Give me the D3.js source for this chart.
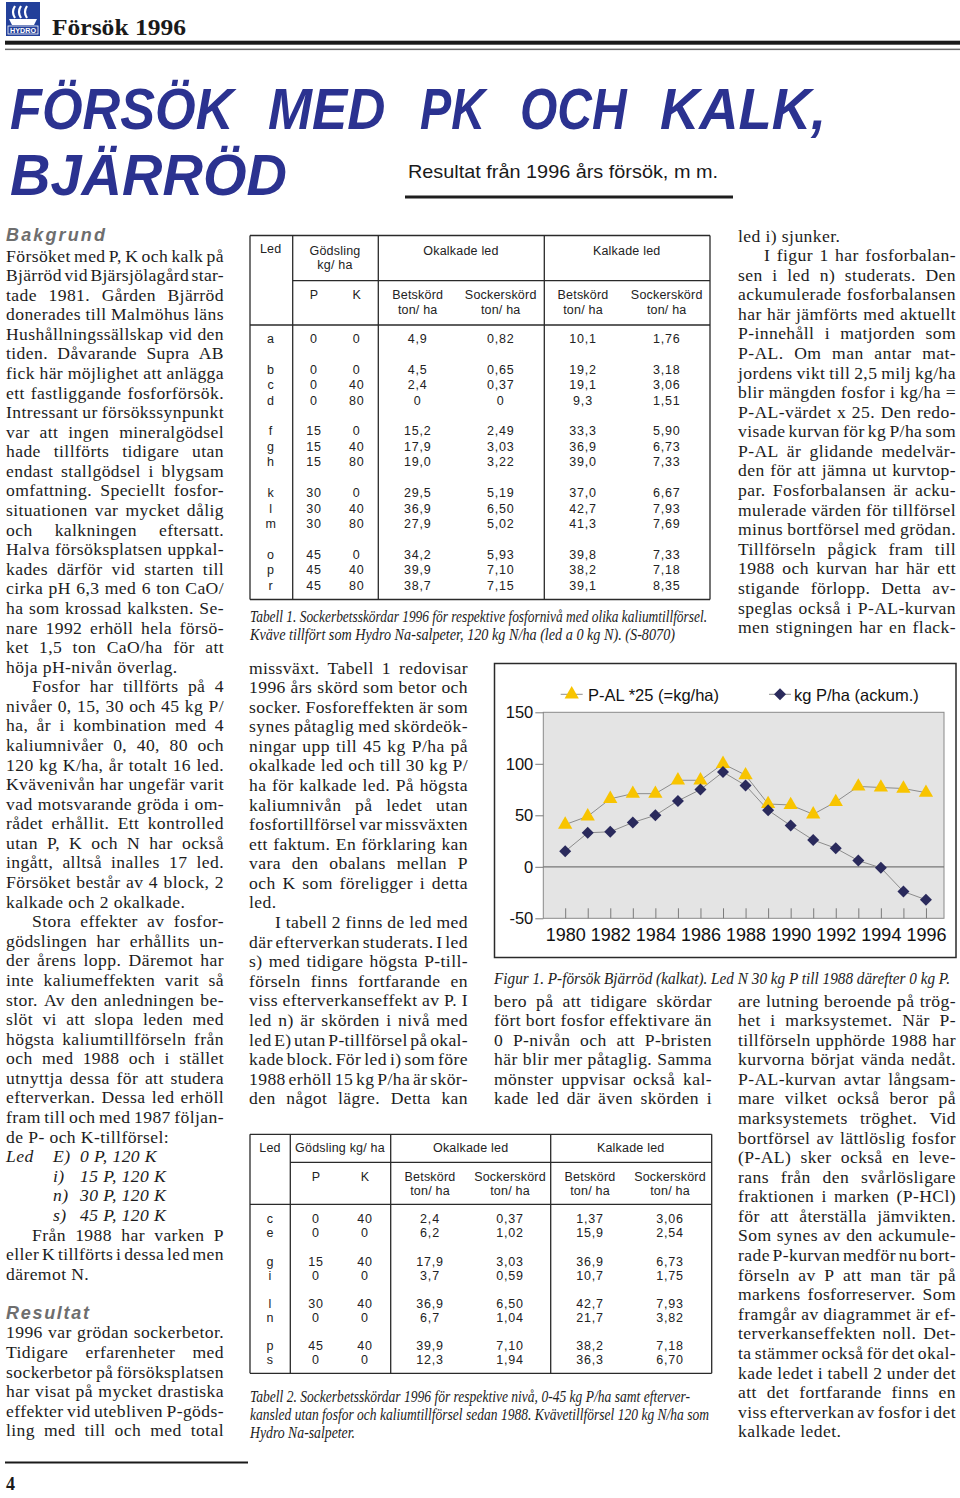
<!DOCTYPE html>
<html><head><meta charset="utf-8">
<script src="https://cdn.jsdelivr.net/npm/d3@7"></script>
<style>html,body{margin:0;padding:0;background:#fff;}</style>
</head><body>
<svg id="page" width="960" height="1498" xmlns="http://www.w3.org/2000/svg"></svg>
<script>
// ---------------- DATA ----------------
const years = [1980,1981,1982,1983,1984,1985,1986,1987,1988,1989,1990,1991,1992,1993,1994,1995,1996];
const palValues = [41,49,66,71,71,84,84,100,89,61,60,51,63,78,77,76,72];
const ackumValues = [15,33,34,43,50,64,75,92,79,55,40,26,18,6,-1,-24,-32];
const yTicks = [150,100,50,0,-50];
const xTickLabels = [1980,1982,1984,1986,1988,1990,1992,1994,1996];
const legendLabels = ["P-AL *25 (=kg/ha)", "kg P/ha (ackum.)"];

const t1Rows = [
 ['a','0','0','4,9','0,82','10,1','1,76'],
 ['b','0','0','4,5','0,65','19,2','3,18'],
 ['c','0','40','2,4','0,37','19,1','3,06'],
 ['d','0','80','0','0','9,3','1,51'],
 ['f','15','0','15,2','2,49','33,3','5,90'],
 ['g','15','40','17,9','3,03','36,9','6,73'],
 ['h','15','80','19,0','3,22','39,0','7,33'],
 ['k','30','0','29,5','5,19','37,0','6,67'],
 ['l','30','40','36,9','6,50','42,7','7,93'],
 ['m','30','80','27,9','5,02','41,3','7,69'],
 ['o','45','0','34,2','5,93','39,8','7,33'],
 ['p','45','40','39,9','7,10','38,2','7,18'],
 ['r','45','80','38,7','7,15','39,1','8,35']
];
const t1Group = [0,1,1,1,2,2,2,3,3,3,4,4,4];
const t2Rows = [
 ['c','0','40','2,4','0,37','1,37','3,06'],
 ['e','0','0','6,2','1,02','15,9','2,54'],
 ['g','15','40','17,9','3,03','36,9','6,73'],
 ['i','0','0','3,7','0,59','10,7','1,75'],
 ['l','30','40','36,9','6,50','42,7','7,93'],
 ['n','0','0','6,7','1,04','21,7','3,82'],
 ['p','45','40','39,9','7,10','38,2','7,18'],
 ['s','0','0','12,3','1,94','36,3','6,70']
];
const t2Group = [0,0,1,1,2,2,3,3];

const col1Lines = [
 "Försöket med P, K och kalk på","Bjärröd vid Bjärsjölagård star-","tade 1981. Gården Bjärröd","donerades till Malmöhus läns",
 "Hushållningssällskap vid den","tiden. Dåvarande Supra AB","fick här möjlighet att anlägga","ett fastliggande fosforförsök.",
 "Intressant ur försökssynpunkt","var att ingen mineralgödsel","hade tillförts tidigare utan","endast stallgödsel i blygsam",
 "omfattning. Speciellt fosfor-","situationen var mycket dålig","och kalkningen eftersatt.","Halva försöksplatsen uppkal-",
 "kades därför vid starten till","cirka pH 6,3 med 6 ton CaO/","ha som krossad kalksten. Se-","nare 1992 erhöll hela försö-",
 "ket 1,5 ton CaO/ha för att","höja pH-nivån överlag.¶",
 "»Fosfor har tillförts på 4","nivåer 0, 15, 30 och 45 kg P/","ha, år i kombination med 4","kaliumnivåer 0, 40, 80 och",
 "120 kg K/ha, år totalt 16 led.","Kvävenivån har ungefär varit","vad motsvarande gröda i om-","rådet erhållit. Ett kontrolled",
 "utan P, K och N har också","ingått, alltså inalles 17 led.","Försöket består av 4 block, 2","kalkade och 2 okalkade.¶",
 "»Stora effekter av fosfor-","gödslingen har erhållits un-","der årens lopp. Däremot har","inte kaliumeffekten varit så",
 "stor. Av den anledningen be-","slöt vi att slopa leden med","högsta kaliumtillförseln från","och med 1988 och i stället",
 "utnyttja dessa för att studera","efterverkan. Dessa led erhöll","fram till och med 1987 följan-","de P- och K-tillförsel:¶",
 null,null,null,null,
 "»Från 1988 har varken P","eller K tillförts i dessa led men","däremot N.¶",
 null,null,
 "1996 var grödan sockerbetor.","Tidigare erfarenheter med","sockerbetor på försöksplatsen","har visat på mycket drastiska",
 "effekter vid utebliven P-göds-","ling med till och med total"
];
const ledLabels = ["E)","i)","n)","s)"];
const ledValues = ["0 P, 120 K","15 P, 120 K","30 P, 120 K","45 P, 120 K"];

const col2Lines = [
 "missväxt. Tabell 1 redovisar","1996 års skörd som betor och","socker. Fosforeffekten är som","synes påtaglig med skördeök-",
 "ningar upp till 45 kg P/ha på","okalkade led och till 30 kg P/","ha för kalkade led. På högsta","kaliumnivån på ledet utan",
 "fosfortillförsel var missväxten","ett faktum. En förklaring kan","vara den obalans mellan P","och K som föreligger i detta","led.¶",
 "»I tabell 2 finns de led med","där efterverkan studerats. I led","s) med tidigare högsta P-till-","förseln finns fortfarande en",
 "viss efterverkanseffekt av P. I","led n) är skörden i nivå med","led E) utan P-tillförsel på okal-","kade block. För led i) som före",
 "1988 erhöll 15 kg P/ha är skör-","den något lägre. Detta kan"
];
const col3Lines = [
 "bero på att tidigare skördar","fört bort fosfor effektivare än","0 P-nivån och att P-bristen","här blir mer påtaglig. Samma",
 "mönster uppvisar också kal-","kade led där även skörden i"
];
const col4Lines = [
 "led i) sjunker.¶","»I figur 1 har fosforbalan-","sen i led n) studerats. Den","ackumulerade fosforbalansen",
 "har här jämförts med aktuellt","P-innehåll i matjorden som","P-AL. Om man antar mat-","jordens vikt till 2,5 milj kg/ha",
 "blir mängden fosfor i kg/ha =","P-AL-värdet x 25. Den redo-","visade kurvan för kg P/ha som","P-AL är glidande medelvär-",
 "den för att jämna ut kurvtop-","par. Fosforbalansen är acku-","mulerade värden för tillförsel","minus bortförsel med grödan.",
 "Tillförseln pågick fram till","1988 och kurvan har här ett","stigande förlopp. Detta av-","speglas också i P-AL-kurvan",
 "men stigningen har en flack-"
];
const col5Lines = [
 "are lutning beroende på trög-","het i marksystemet. När P-","tillförseln upphörde 1988 har","kurvorna börjat vända nedåt.",
 "P-AL-kurvan avtar långsam-","mare vilket också beror på","marksystemets tröghet. Vid","bortförsel av lättlöslig fosfor",
 "(P-AL) sker också en leve-","rans från den svårlösligare","fraktionen i marken (P-HCl)","för att återställa jämvikten.",
 "Som synes av den ackumule-","rade P-kurvan medför nu bort-","förseln av P att man tär på","markens fosforreserver. Som",
 "framgår av diagrammet är ef-","terverkanseffekten noll. Det-","ta stämmer också för det okal-","kade ledet i tabell 2 under det",
 "att det fortfarande finns en","viss efterverkan av fosfor i det","kalkade ledet.¶"
];

// ---------------- DRAWING ----------------
const SERIF = "'Liberation Serif','DejaVu Serif',serif";
const SANS = "'Liberation Sans',Arial,sans-serif";
const svg = d3.select('#page');
const LH = 19.58;
const BODY_SIZE = 17.6;

// Header / logo
const logo = svg.append('g');
logo.append('rect').attr('x',6).attr('y',2).attr('width',34).attr('height',34).attr('fill','#23409a');
[0,1,2].forEach(i=>{
  logo.append('path').attr('d',`M${15+i*6},6 q-4,6 0,12`).attr('fill','none').attr('stroke','#fff').attr('stroke-width',2.2);
});
logo.append('path').attr('d','M9,19 L37,19 L34,25 L12,25 Z').attr('fill','#fff');
logo.append('rect').attr('x',8).attr('y',26).attr('width',30).attr('height',8).attr('fill','none').attr('stroke','#fff').attr('stroke-width',0.8);
logo.append('text').attr('x',23).attr('y',33).attr('text-anchor','middle').attr('font-family',SANS).attr('font-weight','bold')
  .attr('font-size',7.2).attr('fill','#fff').text('HYDRO');

svg.append('text').attr('x',52).attr('y',34.5).attr('font-family',SERIF).attr('font-weight','bold').attr('font-size',23)
  .attr('fill','#1a1a1a').attr('textLength',134).attr('lengthAdjust','spacingAndGlyphs').text('Försök 1996');
svg.append('rect').attr('x',5).attr('y',40.7).attr('width',955).attr('height',4).attr('fill','#1a1a1a');
svg.append('rect').attr('x',5).attr('y',48.6).attr('width',955).attr('height',1.5).attr('fill','#6a6a6a');

// Title
const TITLE_BLUE = '#2b3290';
const titleWords = [["FÖRSÖK",10,238],["MED",268,132],["PK",420,78],["OCH",520,120],["KALK,",660,166]];
const tt = svg.append('text').attr('y',128.5).attr('font-family',SANS).attr('font-weight','bold').attr('font-style','italic')
  .attr('font-size',57).attr('fill',TITLE_BLUE);
titleWords.forEach((w,k)=>{ tt.append('tspan').attr('x',w[1]).attr('textLength',w[2]).attr('lengthAdjust','spacingAndGlyphs').text(w[0]+(k<titleWords.length-1?' ':'')); });
svg.append('text').attr('x',10).attr('y',195).attr('font-family',SANS).attr('font-weight','bold').attr('font-style','italic')
  .attr('font-size',57).attr('fill',TITLE_BLUE).attr('textLength',277).attr('lengthAdjust','spacingAndGlyphs').text('BJÄRRÖD');
svg.append('text').attr('x',408).attr('y',178).attr('font-family',SANS).attr('font-size',19).attr('fill','#1a1a1a')
  .attr('textLength',310).attr('lengthAdjust','spacingAndGlyphs').text('Resultat från 1996 års försök, m m.');
svg.append('rect').attr('x',405).attr('y',195.5).attr('width',328).attr('height',3).attr('fill','#1e1e1e');

// Body text, justified word by word
const measurer = svg.append('text').attr('font-family',SERIF).attr('font-size',BODY_SIZE).attr('x',-1000).attr('y',-1000);
function wordWidths(words, ls) {
  measurer.style('letter-spacing', ls+'px');
  return words.map(w=>{ measurer.text(w); return measurer.node().getComputedTextLength(); });
}
function drawLines(lines, x0, width, yc0) {
  const g = svg.append('g');
  lines.forEach((raw,i)=>{
    if (raw===null) return;
    let s = raw, indent = 0, just = true;
    if (s.startsWith('»')) { indent = 26; s = s.slice(1); }
    if (s.endsWith('¶')) { just = false; s = s.slice(0,-1); }
    const words = s.split(' ');
    const target = width - indent;
    const minGap = 2.6;
    let ls = 0.4;
    let ww = wordWidths(words, ls);
    let sum = d3.sum(ww);
    const need = sum + minGap*(words.length-1);
    if (need > target) {
      const nch = s.replace(/ /g,'').length;
      ls = ls - (need - target)/nch;
      ww = wordWidths(words, ls); sum = d3.sum(ww);
    }
    let gap = BODY_SIZE*0.25 + ls;
    if (words.length>1 && (just || sum + gap*(words.length-1) > target)) gap = (target - sum)/(words.length-1);
    const t = g.append('text').attr('y',yc0+i*LH+5.5).attr('font-family',SERIF).attr('font-size',BODY_SIZE)
      .attr('fill','#1c1c1c').style('letter-spacing',ls+'px');
    let cx = x0+indent;
    words.forEach((w,k)=>{
      t.append('tspan').attr('x',cx).text(w + (k<words.length-1?' ':''));
      cx += ww[k] + gap;
    });
  });
  return g;
}
function heading(txt, x, yc, w) {
  svg.append('text').attr('x',x).attr('y',yc+6).attr('font-family',SANS).attr('font-weight','bold').attr('font-style','italic')
    .attr('font-size',18).attr('fill','#6e6e6e').attr('textLength',w).attr('lengthAdjust','spacing').text(txt);
}
heading('Bakgrund',6,235,99);
drawLines(col1Lines,6,218,256);
heading('Resultat',6,256+54*LH,83);
ledLabels.forEach((l,i)=>{
  const yy = 256+(46+i)*LH+5.5;
  const it = (txt,xx)=>svg.append('text').attr('x',xx).attr('y',yy).attr('font-family',SERIF).attr('font-style','italic')
    .attr('font-size',BODY_SIZE).attr('fill','#1c1c1c').style('letter-spacing','0.4px').text(txt);
  if (i===0) it('Led',6);
  it(l,53);
  it(ledValues[i],80);
});
drawLines(col2Lines,249,219,668);
drawLines(col3Lines,494,218,1001);
drawLines(col4Lines,738,218,236);
drawLines(col5Lines,738,218,1001);
measurer.remove();

// Captions
function caption(txt, x, yc, w) {
  svg.append('text').attr('x',x).attr('y',yc+5).attr('font-family',SERIF).attr('font-style','italic').attr('font-size',16.5)
    .attr('fill','#1c1c1c').attr('textLength',w).attr('lengthAdjust','spacingAndGlyphs').text(txt);
}
caption('Tabell 1. Sockerbetsskördar 1996 för respektive fosfornivå med olika kaliumtillförsel.',250,616.7,457);
caption('Kväve tillfört som Hydro Na-salpeter, 120 kg N/ha (led a  0 kg N). (S-8070)',250,635,425);
caption('Figur 1. P-försök Bjärröd (kalkat). Led N 30 kg P till 1988 därefter 0 kg P.',494,979,456);
caption('Tabell 2. Sockerbetsskördar 1996 för respektive nivå, 0-45 kg P/ha samt efterver-',250,1396.7,440);
caption('kansled utan fosfor och kaliumtillförsel sedan 1988. Kvävetillförsel 120 kg N/ha som',250,1415,459);
caption('Hydro Na-salpeter.',250,1433.3,105);

// Tables
function tableText(g, txt, x, y, spaced) {
  g.append('text').attr('x',x).attr('y',y).attr('text-anchor','middle').attr('dominant-baseline','central')
    .attr('font-family',SANS).attr('font-size',12.5).attr('fill','#222')
    .style('letter-spacing', spaced ? '0.8px' : '0.2px').text(txt);
}
function hline(g,x1,x2,yy){ g.append('line').attr('x1',x1).attr('x2',x2).attr('y1',yy).attr('y2',yy).attr('stroke','#2a2a2a').attr('stroke-width',1.3); }
function vline(g,xx,y1,y2){ g.append('line').attr('x1',xx).attr('x2',xx).attr('y1',y1).attr('y2',y2).attr('stroke','#2a2a2a').attr('stroke-width',1.3); }

// Table 1
{
  const g = svg.append('g');
  const T=235.5, B=599.5, L=250, R=710;
  hline(g,L,R,T); hline(g,L,R,B); hline(g,292.7,R,280.7); hline(g,L,R,325);
  [L,292.7,378.3,544.3,R].forEach(xx=>vline(g,xx,T,B));
  const cols = [270.7,314,356.7,417.7,500.7,583,666.7];
  tableText(g,'Led',270.7,249); tableText(g,'Gödsling',335,250.7); tableText(g,'kg/ ha',335,265);
  tableText(g,'Okalkade led',461,250.7); tableText(g,'Kalkade led',626.7,250.7);
  tableText(g,'P',cols[1],295); tableText(g,'K',cols[2],295);
  ['Betskörd','Sockerskörd','Betskörd','Sockerskörd'].forEach((h,i)=>{ tableText(g,h,cols[3+i],295); tableText(g,'ton/ ha',cols[3+i],310); });
  t1Rows.forEach((r,i)=>{ const yy = 338.7+(i+t1Group[i])*15.45; r.forEach((c,j)=>tableText(g,c,cols[j],yy,j>0)); });
}
// Table 2
{
  const g = svg.append('g');
  const T=1134.3, B=1373.3, L=250, R=711.7;
  hline(g,L,R,T); hline(g,L,R,B); hline(g,290.3,R,1162.3); hline(g,L,R,1204.3);
  [L,290.3,390.7,550.7,R].forEach(xx=>vline(g,xx,T,B));
  const cols = [270,316,365,430,510,590,670];
  tableText(g,'Led',270,1148.3); tableText(g,'Gödsling kg/ ha',340,1148);
  tableText(g,'Okalkade led',470.7,1148); tableText(g,'Kalkade led',630.7,1148);
  tableText(g,'P',cols[1],1176.7); tableText(g,'K',cols[2],1176.7);
  ['Betskörd','Sockerskörd','Betskörd','Sockerskörd'].forEach((h,i)=>{ tableText(g,h,cols[3+i],1176.7); tableText(g,'ton/ ha',cols[3+i],1191); });
  t2Rows.forEach((r,i)=>{ const yy = 1219.3+(i+t2Group[i])*14.07; r.forEach((c,j)=>tableText(g,c,cols[j],yy,j>0)); });
}

// Chart
{
  const plot = {l:543.3, r:944, t:712.3, b:918.3};
  const g = svg.append('g');
  g.append('rect').attr('x',494.5).attr('y',663.5).attr('width',461.5).attr('height',294).attr('fill','#fff').attr('stroke','#2a2a2a').attr('stroke-width',1.5);
  const x = d3.scaleLinear().domain([1979.03,1996.8]).range([plot.l,plot.r]);
  const y = d3.scaleLinear().domain([-50,150]).range([plot.b,plot.t]);
  g.append('rect').attr('x',plot.l).attr('y',plot.t).attr('width',plot.r-plot.l).attr('height',plot.b-plot.t)
    .attr('fill','#e4e4e4').attr('stroke','#8a8a8a').attr('stroke-width',1);
  g.append('line').attr('x1',plot.l).attr('x2',plot.r).attr('y1',y(0)).attr('y2',y(0)).attr('stroke','#777').attr('stroke-width',1.2);

  const ya = g.append('g').attr('transform',`translate(${plot.l},0)`)
    .call(d3.axisLeft(y).tickValues(yTicks).tickSize(8).tickPadding(2).tickFormat(d=>String(d)));
  ya.select('.domain').remove();
  ya.selectAll('line').attr('stroke','#7a7a7a');
  ya.selectAll('text').attr('font-family',SANS).attr('font-size',16.5).attr('fill','#111');

  const xa = g.append('g').attr('transform',`translate(0,${plot.b})`)
    .call(d3.axisBottom(x).tickValues(years).tickSize(-10).tickPadding(10).tickFormat(d=>xTickLabels.includes(d)?String(d):''));
  xa.select('.domain').remove();
  xa.selectAll('line').attr('stroke','#7a7a7a');
  xa.selectAll('text').attr('font-family',SANS).attr('font-size',18).attr('fill','#111');

  const pal = years.map((yr,i)=>({yr, v:palValues[i]}));
  const ack = years.map((yr,i)=>({yr, v:ackumValues[i]}));
  const line = d3.line().x(d=>x(d.yr)).y(d=>y(d.v));
  g.append('path').datum(pal).attr('d',line).attr('fill','none').attr('stroke','#8c8c8c').attr('stroke-width',1);
  g.append('path').datum(ack).attr('d',line).attr('fill','none').attr('stroke','#8c8c8c').attr('stroke-width',1);
  const tri = d3.symbol(d3.symbolTriangle, 88)();
  const dia = d3.symbol(d3.symbolSquare, 72)();
  const YEL = '#f8c400', NAVY = '#2a2a5c';
  g.selectAll('.tri').data(pal).join('path').attr('d',tri).attr('fill',YEL)
    .attr('transform',d=>`translate(${x(d.yr)},${y(d.v)})`);
  g.selectAll('.dia').data(ack).join('path').attr('d',dia).attr('fill',NAVY)
    .attr('transform',d=>`translate(${x(d.yr)},${y(d.v)}) rotate(45)`);

  // legend
  const lg = g.append('g');
  const items = [{cx:571.7, tx:588, sym:tri, col:YEL, rot:0},{cx:780, tx:794, sym:dia, col:NAVY, rot:45}];
  items.forEach((it,i)=>{
    lg.append('line').attr('x1',it.cx-11).attr('x2',it.cx+11).attr('y1',694.3).attr('y2',694.3).attr('stroke','#8c8c8c');
    lg.append('path').attr('d',it.sym).attr('fill',it.col).attr('transform',`translate(${it.cx},694.3) rotate(${it.rot})`);
    lg.append('text').attr('x',it.tx).attr('y',700.5).attr('font-family',SANS).attr('font-size',16.5).attr('fill','#111').text(legendLabels[i]);
  });
}

// Footer
svg.append('rect').attr('x',5).attr('y',1461.5).attr('width',243).attr('height',2).attr('fill','#1a1a1a');
svg.append('text').attr('x',6).attr('y',1490).attr('font-family',SERIF).attr('font-weight','bold').attr('font-size',18).attr('fill','#1a1a1a').text('4');
</script>
</body></html>
